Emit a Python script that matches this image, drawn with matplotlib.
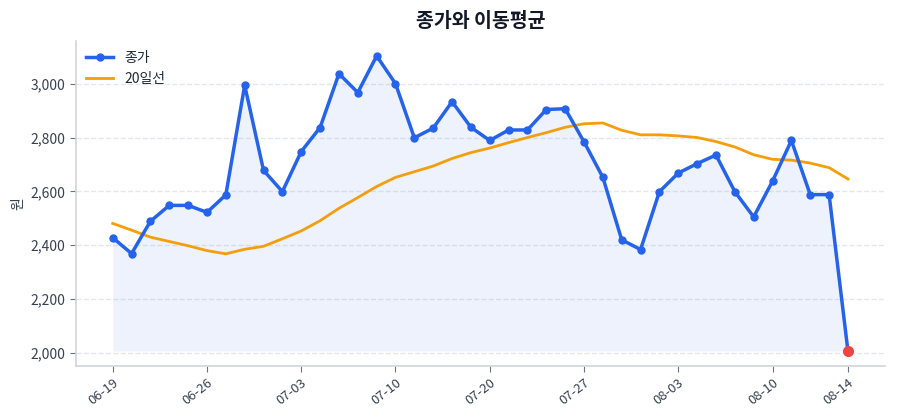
import matplotlib
matplotlib.use("Agg")
import matplotlib.pyplot as plt
import numpy as np

plt.rcParams['font.family'] = ['Noto Sans CJK KR', 'DejaVu Sans']

dates = ["06-19", "06-20", "06-21", "06-22", "06-23",
         "06-26", "06-27", "06-28", "06-29", "06-30",
         "07-03", "07-04", "07-05", "07-06", "07-07",
         "07-10", "07-11", "07-12", "07-13", "07-14",
         "07-20", "07-21", "07-24", "07-25", "07-26",
         "07-27", "07-28", "07-31", "08-01", "08-02",
         "08-03", "08-04", "08-07", "08-08", "08-09",
         "08-10", "08-11", "08-12", "08-13", "08-14"]
close = [2428, 2369, 2489, 2548, 2548, 2522, 2587, 2994, 2678, 2599,
         2748, 2837, 3037, 2967, 3103, 3000, 2799, 2835, 2933, 2838,
         2789, 2828, 2828, 2904, 2907, 2784, 2652, 2420, 2384, 2599,
         2668, 2703, 2735, 2599, 2505, 2638, 2789, 2588, 2588, 2007]
ma20 = [2481, 2456, 2430, 2414, 2398, 2380, 2368, 2385, 2396, 2424,
        2453, 2491, 2537, 2577, 2618, 2652, 2673, 2694, 2722, 2744,
        2761, 2781, 2800, 2818, 2838, 2851, 2854, 2827, 2810, 2810,
        2806, 2800, 2785, 2765, 2736, 2719, 2716, 2705, 2688, 2646]
tick_idx = [0, 5, 10, 15, 20, 25, 30, 35, 39]

x = np.arange(len(close))
c = np.array(close)

fig = plt.figure(figsize=(9, 4.2), dpi=100)
ax = fig.add_axes([0.0844, 0.129, 0.8986, 0.773])

ax.fill_between(x, c, c.min(), color='#2563eb', alpha=0.08, linewidth=0)
ax.plot(x, c, color='#2563eb', lw=2.5, marker='o', ms=5, label='종가', zorder=3)
ax.plot(x, ma20, color='#f59e0b', lw=2.0, label='20일선', zorder=2)
ax.plot(x[-1], c[-1], 'o', color='#ef4444', ms=7, zorder=4)

ax.set_xticks([x[i] for i in tick_idx])
ax.set_xticklabels([dates[i] for i in tick_idx], rotation=38, ha='right',
                   rotation_mode='anchor', fontsize=9.5, color='#374151')
ax.yaxis.set_major_formatter(matplotlib.ticker.FuncFormatter(lambda v, p: f"{int(v):,}"))
ax.tick_params(axis='y', labelsize=10, colors='#374151')
ax.tick_params(axis='both', color='#6b7280', length=4)
ax.set_ylabel('원', color='#374151', fontsize=10)
ax.set_title('종가와 이동평균', fontsize=14, fontweight='bold', color='#111827', pad=10)

ax.grid(axis='y', linestyle='--', color='#e5e7eb', linewidth=1)
ax.set_axisbelow(True)
for s in ['top', 'right']:
    ax.spines[s].set_visible(False)
for s in ['left', 'bottom']:
    ax.spines[s].set_color('#d1d5db')
    ax.spines[s].set_linewidth(1.2)

leg = ax.legend(loc='upper left', frameon=False, fontsize=10,
                borderaxespad=0.3)
for t in leg.get_texts():
    t.set_color('#1f2937')

fig.savefig('out.png', dpi=100)
